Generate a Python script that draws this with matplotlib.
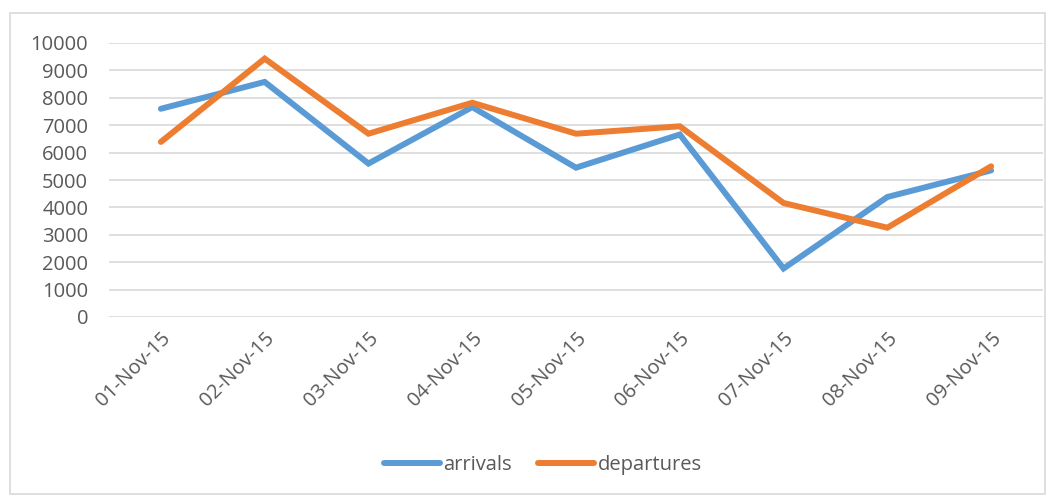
import matplotlib
matplotlib.use("Agg")
import matplotlib.pyplot as plt
from matplotlib.patches import Rectangle

categories = ["01-Nov-15", "02-Nov-15", "03-Nov-15", "04-Nov-15", "05-Nov-15",
              "06-Nov-15", "07-Nov-15", "08-Nov-15", "09-Nov-15"]
arrivals = [7600, 8580, 5600, 7660, 5450, 6660, 1770, 4380, 5350]
departures = [6390, 9430, 6690, 7820, 6690, 6960, 4160, 3260, 5500]
yticks = [0, 1000, 2000, 3000, 4000, 5000, 6000, 7000, 8000, 9000, 10000]

plt.rcParams['font.family'] = ['Open Sans', 'DejaVu Sans']
W, H = 1056, 496
fig = plt.figure(figsize=(W/100, H/100), dpi=100)
fig.patches.append(Rectangle((10/W, 1 - 494/H), 1035/W, 481/H, transform=fig.transFigure,
                             fill=False, edgecolor="#D9D9D9", linewidth=1.2))

ax = fig.add_axes([109/W, 1 - 317/H, 934/W, 274/H])
x = list(range(len(categories)))
ax.plot(x, arrivals, color="#5B9BD5", linewidth=4.3, label="arrivals", solid_capstyle="round",
        solid_joinstyle="miter", zorder=3)
ax.plot(x, departures, color="#ED7D31", linewidth=4.3, label="departures", solid_capstyle="round",
        solid_joinstyle="miter", zorder=3)
ax.set_xlim(-0.5, len(categories) - 0.5)
ax.set_ylim(0, 10000)
ax.set_yticks(yticks)
ax.set_yticklabels([str(v) for v in yticks])
ax.set_xticks(x)
ax.set_xticklabels(categories, rotation=45, ha="right", va="top", rotation_mode="anchor")
ax.grid(axis="y", color="#D9D9D9", linewidth=1.2)
ax.set_axisbelow(True)
for s in ax.spines.values():
    s.set_visible(False)
ax.tick_params(axis="both", length=0, labelsize=14.5, labelcolor="#595959")
ax.tick_params(axis="y", pad=15)
ax.tick_params(axis="x", pad=8)

leg = fig.legend(loc="center", bbox_to_anchor=(543/W, 1 - 465/H), ncol=2, frameon=False,
                 fontsize=14.5, handlelength=2.75, columnspacing=1.3, handletextpad=0.2)
for t in leg.get_texts():
    t.set_color("#595959")

fig.savefig("out.png", dpi=100)
